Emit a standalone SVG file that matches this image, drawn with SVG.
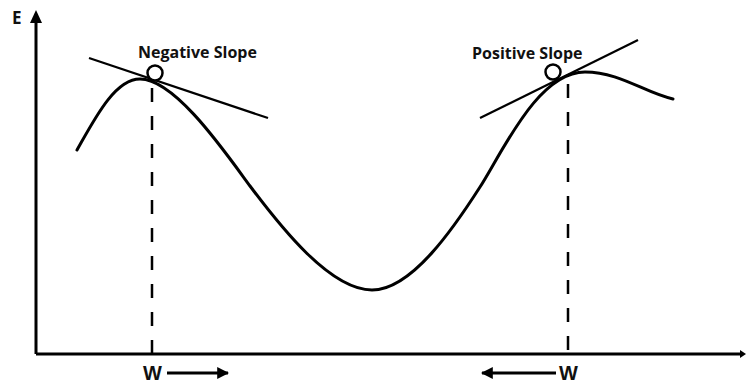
<svg xmlns="http://www.w3.org/2000/svg" width="746" height="385" viewBox="0 0 746 385">
<defs>
<style>
.ax{stroke:#000;stroke-width:3;fill:none}
.crv{stroke:#000;stroke-width:3;fill:none;stroke-linecap:round}
.tan{stroke:#000;stroke-width:2.2;fill:none}
.dash{stroke:#000;stroke-width:2.5;stroke-dasharray:14,14;fill:none}
.lbl{font-family:"Open Sans","Liberation Sans",sans-serif;font-weight:bold;fill:#111}
.wl{font-family:"Liberation Sans",Arial,sans-serif;font-weight:bold;fill:#111}
</style>
<marker id="ah" viewBox="0 0 10 10" refX="9" refY="5" markerWidth="4" markerHeight="4" orient="auto" markerUnits="strokeWidth">
<path d="M0,0 L10,5 L0,10 z" fill="#000"/>
</marker>
</defs>
<rect width="746" height="385" fill="#fff"/>
<g id="axes">
<line class="ax" x1="36" y1="354" x2="36" y2="22"/>
<path d="M30,23 L36,10 L42,23 z" fill="#000"/>
<line class="ax" x1="36" y1="354" x2="742" y2="354"/>
<path d="M740,350 L746,354 L740,358 z" fill="#000"/>
<text class="lbl" x="12" y="24" font-size="17">E</text>
</g>
<g id="curve">
<path class="crv" d="M77,150 C95,118 115,79 140,79 C175,79 225,152 250,186 C280,226 330,290 372,290 C412,290 455,226 480,187 C503,151 538,72 585,72 C620,72 645,93 673,99"/>
</g>
<g id="negative-slope">
<line class="tan" x1="89" y1="58" x2="268" y2="118"/>
<circle cx="155" cy="73" r="7.5" fill="#fff" stroke="#000" stroke-width="2.5"/>
<line class="dash" x1="152" y1="88" x2="152" y2="354"/>
<text class="lbl" x="138" y="58" font-size="16">Negative Slope</text>
</g>
<g id="positive-slope">
<line class="tan" x1="480" y1="118" x2="638" y2="40"/>
<circle cx="553" cy="72" r="7.5" fill="#fff" stroke="#000" stroke-width="2.5"/>
<line class="dash" x1="568" y1="84" x2="568" y2="354"/>
<text class="lbl" x="472" y="59" font-size="16">Positive Slope</text>
</g>
<g id="connectors">
<line x1="167" y1="373" x2="228" y2="373" stroke="#000" stroke-width="3" marker-end="url(#ah)"/>
<line x1="556" y1="373" x2="482" y2="373" stroke="#000" stroke-width="3" marker-end="url(#ah)"/>
</g>
<g id="w-labels">
<text class="wl" x="143" y="380" font-size="20">W</text>
<text class="wl" x="559" y="380" font-size="20">W</text>
</g>
</svg>
